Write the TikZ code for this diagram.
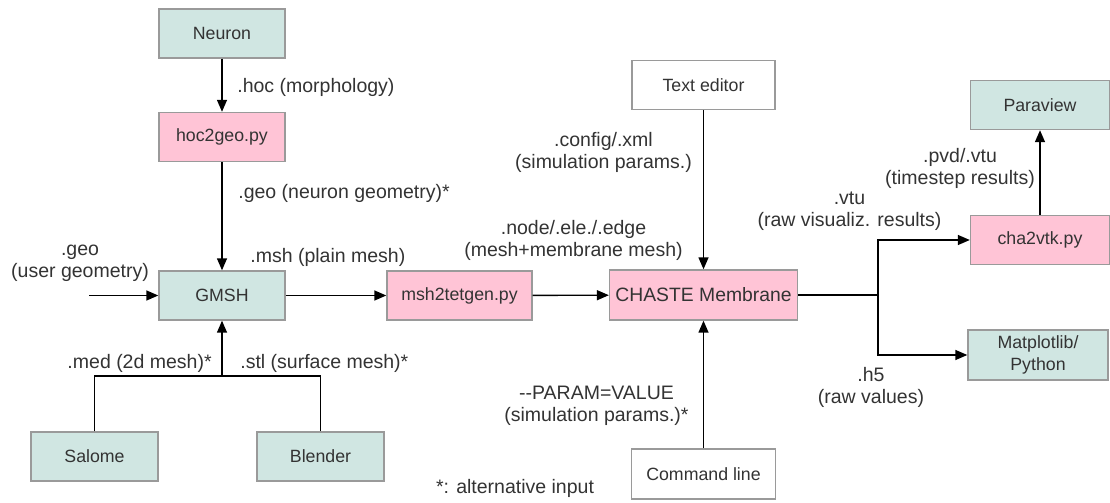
\documentclass[tikz,border=0pt]{standalone}
\usepackage{fontspec}
\setmainfont{Liberation Sans}
\usepackage{tikz}
\usetikzlibrary{shapes,arrows,arrows.meta}
\definecolor{boxgreen}{HTML}{D0E6E2}
\definecolor{boxpink}{HTML}{FFC4D6}
\definecolor{edgegrey}{HTML}{9A9A9A}
\definecolor{textgrey}{HTML}{333333}

\begin{document}
\begin{tikzpicture}[x=0.02cm,y=-0.02cm]
\tikzstyle{every node}=[font=\fontsize{10.1}{12.5}\selectfont, text=textgrey]
\tikzstyle{tool}=[draw=edgegrey, line width=0.8pt, fill=boxgreen, minimum width=2.52cm, minimum height=0.98cm, align=center]
\tikzstyle{script}=[tool, fill=boxpink]
\tikzstyle{plain}=[tool, fill=white]
\tikzstyle{lbl}=[font=\fontsize{11.1}{12.5}\selectfont, align=center, inner sep=0pt]
\tikzstyle{flow}=[-{Triangle[length=0.24cm,width=0.2cm]}, line width=0.8pt]
\useasboundingbox (0,0) rectangle (1110,503);
% boxes
\node[tool] (neuron) at (222,33.5) {Neuron};
\node[script] (hocgeo) at (222,137) {hoc2geo.py};
\node[tool] (gmsh) at (222,295.5) {GMSH};
\node[tool, minimum width=2.54cm] (salome) at (94.5,456.5) {Salome};
\node[tool, minimum width=2.54cm] (blender) at (320.5,456.5) {Blender};
\node[script, minimum width=2.9cm] (mshtet) at (459.5,295.5) {msh2tetgen.py};
\node[script, minimum width=3.74cm, minimum height=1.0cm, font=\fontsize{11}{13}\selectfont] (chaste) at (703.5,295) {CHASTE Membrane};
\node[plain, minimum width=2.86cm] (editor) at (703.5,85) {Text editor};
\node[plain, minimum width=2.88cm, minimum height=1.0cm] (cmdline) at (703.5,474) {Command line};
\node[tool, minimum width=2.78cm] (paraview) at (1040,105) {Paraview};
\node[script, minimum width=2.78cm] (chavtk) at (1040,240) {cha2vtk.py};
\node[tool, minimum width=2.8cm] (matplot) at (1038,355) {Matplotlib/\\Python};
% connectors
\coordinate (usrgeo) at (89,295.5);
\coordinate (jn) at (222,376);
\coordinate (fork) at (878,295);
\draw[flow] (neuron) -- (hocgeo);
\draw[flow] (hocgeo) -- (gmsh);
\draw[flow] (usrgeo) -- (gmsh);
\draw[line width=0.8pt] (salome.north) |- (jn) -| (blender.north);
\draw[flow] (jn) -- (gmsh);
\draw[flow] (gmsh) -- (mshtet);
\draw[flow] (mshtet) -- (chaste);
\draw[flow] (editor) -- (chaste);
\draw[flow] (cmdline) -- (chaste);
\draw[line width=0.8pt] (chaste) -- (fork);
\draw[flow] (fork) |- (chavtk);
\draw[flow] (fork) |- (matplot);
\draw[flow] (chavtk) -- (paraview);
% labels
\node[lbl, anchor=west] (hoclbl) at (237,87) {.hoc (morphology)};
\node[lbl, anchor=west] (geolbl) at (238,193) {.geo (neuron geometry)*};
\node[lbl, anchor=west] (mshlbl) at (250,257) {.msh (plain mesh)};
\node[lbl] (usrlbl) at (80,263) {.geo\\(user geometry)};
\node[lbl, anchor=east] (medlbl) at (212,363) {.med (2d mesh)*};
\node[lbl, anchor=west] (stllbl) at (240,363) {.stl (surface mesh)*};
\node[lbl] (nodelbl) at (573.5,240) {.node/.ele./.edge\\(mesh+membrane mesh)};
\node[lbl] (cfglbl) at (603.5,152.5) {.config/.xml\\(simulation params.)};
\node[lbl] (paramlbl) at (596.5,406) {-{}-PARAM=VALUE\\(simulation params.)*};
\node[lbl] (altlbl) at (515,488) {*: alternative input};
\node[lbl] (vtulbl) at (849.5,211.5) {.vtu\\(raw visualiz. results)};
\node[lbl] (pvdlbl) at (960,168) {.pvd/.vtu\\(timestep results)};
\node[lbl] (h5lbl) at (871,387) {.h5\\(raw values)};
\end{tikzpicture}
\end{document}
